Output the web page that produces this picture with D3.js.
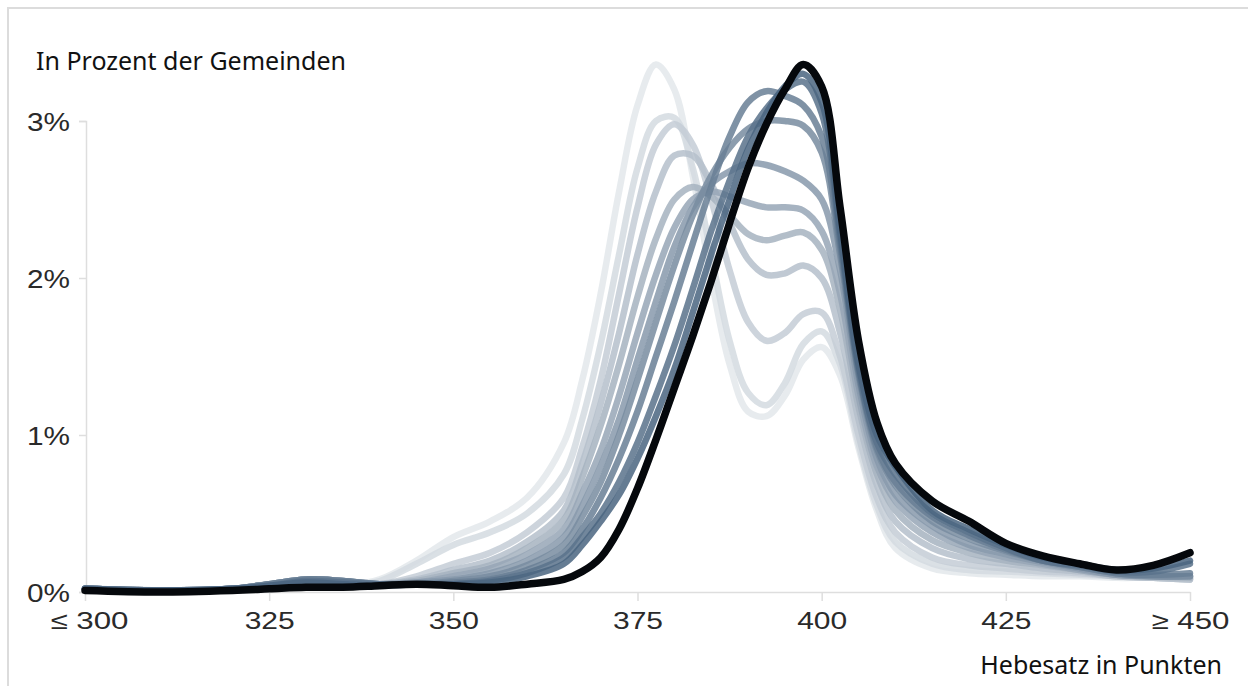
<!DOCTYPE html>
<html><head><meta charset="utf-8">
<script src="https://cdn.jsdelivr.net/npm/d3@7"></script>
<style>body{margin:0;background:#fff}svg{display:block}</style>
</head><body>
<svg id="c" width="1248" height="686"></svg>
<script>
// x grid (Hebesatz in Punkten)
const xs = [300,310,320,325,330,335,340,345,350,355,360,365,367.5,370,372.5,375,377.5,380,382.5,385,387.5,390,392.5,395,397.5,400,402.5,405,407.5,410,415,420,425,430,435,440,445,450];
// density in percent, lightest (earliest) to black (latest)
const s0  = [0.02,0.01,0.01,0.02,0.03,0.04,0.08,0.2,0.35,0.45,0.6,0.95,1.35,1.9,2.55,3.1,3.36,3.2,2.65,2.0,1.45,1.15,1.12,1.25,1.48,1.56,1.38,0.92,0.52,0.28,0.15,0.12,0.11,0.1,0.1,0.09,0.09,0.08];
const s1  = [0.02,0.01,0.01,0.02,0.03,0.04,0.07,0.18,0.3,0.38,0.5,0.75,1.1,1.58,2.15,2.7,3.0,3.02,2.7,2.15,1.6,1.27,1.19,1.33,1.58,1.66,1.45,0.95,0.55,0.32,0.18,0.14,0.13,0.12,0.11,0.1,0.09,0.08];
const s2  = [0.02,0.01,0.01,0.03,0.04,0.04,0.05,0.1,0.18,0.25,0.38,0.6,0.92,1.35,1.9,2.45,2.85,2.98,2.85,2.5,2.05,1.72,1.6,1.65,1.77,1.78,1.5,1.0,0.6,0.38,0.22,0.17,0.15,0.13,0.12,0.1,0.09,0.08];
const s3  = [0.02,0.01,0.02,0.04,0.06,0.05,0.05,0.08,0.14,0.2,0.32,0.52,0.82,1.2,1.65,2.15,2.55,2.78,2.78,2.6,2.35,2.12,2.02,2.03,2.08,2.0,1.65,1.1,0.68,0.45,0.28,0.21,0.18,0.15,0.13,0.1,0.09,0.08];
const s4  = [0.02,0.01,0.02,0.05,0.07,0.06,0.05,0.07,0.12,0.17,0.28,0.46,0.73,1.06,1.45,1.88,2.25,2.5,2.58,2.52,2.4,2.28,2.24,2.27,2.29,2.18,1.8,1.18,0.75,0.52,0.33,0.25,0.2,0.17,0.14,0.11,0.1,0.09];
const s5  = [0.02,0.01,0.02,0.05,0.08,0.07,0.05,0.06,0.1,0.15,0.24,0.4,0.63,0.9,1.25,1.65,2.02,2.32,2.5,2.55,2.52,2.48,2.45,2.45,2.43,2.3,1.9,1.25,0.8,0.58,0.38,0.28,0.22,0.18,0.14,0.11,0.1,0.1];
const s6  = [0.02,0.01,0.02,0.05,0.08,0.07,0.05,0.06,0.08,0.12,0.2,0.35,0.55,0.8,1.1,1.48,1.85,2.2,2.45,2.6,2.68,2.73,2.72,2.68,2.62,2.5,2.05,1.32,0.85,0.62,0.42,0.3,0.24,0.19,0.15,0.11,0.1,0.1];
const s7  = [0.02,0.01,0.02,0.05,0.08,0.07,0.05,0.05,0.07,0.1,0.17,0.3,0.48,0.7,1.0,1.35,1.72,2.08,2.4,2.65,2.83,2.95,3.0,3.0,2.97,2.8,2.15,1.38,0.9,0.68,0.45,0.34,0.26,0.2,0.16,0.12,0.1,0.1];
const s8  = [0.02,0.01,0.02,0.05,0.08,0.07,0.05,0.05,0.06,0.08,0.14,0.25,0.4,0.6,0.85,1.15,1.5,1.85,2.22,2.58,2.9,3.12,3.19,3.16,3.1,2.9,2.2,1.4,0.92,0.7,0.48,0.36,0.27,0.2,0.16,0.12,0.11,0.12];
const s9  = [0.02,0.01,0.02,0.04,0.07,0.06,0.05,0.05,0.05,0.07,0.12,0.22,0.35,0.5,0.7,0.95,1.25,1.57,1.93,2.3,2.62,2.9,3.08,3.2,3.25,3.05,2.25,1.42,0.95,0.75,0.5,0.38,0.28,0.2,0.17,0.13,0.13,0.18];
const s10 = [0.02,0.01,0.02,0.04,0.06,0.05,0.04,0.05,0.05,0.06,0.1,0.18,0.3,0.45,0.62,0.85,1.12,1.42,1.78,2.15,2.5,2.82,3.05,3.22,3.3,3.12,2.3,1.45,1.0,0.8,0.52,0.4,0.3,0.22,0.18,0.14,0.15,0.2];
const s11 = [0.01,0.0,0.01,0.02,0.03,0.03,0.04,0.05,0.04,0.03,0.05,0.08,0.13,0.22,0.4,0.66,0.97,1.3,1.63,1.98,2.35,2.7,2.98,3.2,3.36,3.22,2.45,1.6,1.08,0.82,0.58,0.45,0.31,0.23,0.18,0.14,0.17,0.25];
const series = [s0,s1,s2,s3,s4,s5,s6,s7,s8,s9,s10,s11];

const xTicks = [300,325,350,375,400,425,450];
const xTickLabels = ["≤ 300","325","350","375","400","425","≥ 450"];
const yTicks = [0,1,2,3];
const yTickLabels = ["0%","1%","2%","3%"];

const svg = d3.select("#c");
// outer frame
svg.append("rect").attr("x",8).attr("y",8).attr("width",1300).attr("height",700)
  .attr("fill","none").attr("stroke","#dcdcdc").attr("stroke-width",2);

const x = d3.scaleLinear().domain([300,450]).range([85,1190]);
const y = d3.scaleLinear().domain([0,3]).range([592,121]);

const tickFont = "Liberation Sans, Arial, sans-serif";
// y axis
const yAx = svg.append("g").attr("transform","translate(86,0)")
  .call(d3.axisLeft(y).tickValues(yTicks).tickFormat((d,i)=>yTickLabels[i]).tickSize(7).tickPadding(9));
yAx.select(".domain").attr("stroke","#dedede").attr("stroke-width",1.5);
yAx.selectAll(".tick line").attr("stroke","#dedede").attr("stroke-width",1.5);
yAx.selectAll(".tick text").attr("font-family",tickFont).attr("font-size",25).attr("fill","#2a2a2a")
  .attr("dy","0.36em").attr("textLength",43).attr("lengthAdjust","spacingAndGlyphs");

// x axis
const xAx = svg.append("g").attr("transform","translate(0,592)")
  .call(d3.axisBottom(x).tickValues(xTicks).tickFormat((d,i)=>xTickLabels[i]).tickSize(9).tickSizeOuter(0).tickPadding(11));
xAx.select(".domain").attr("stroke","#dedede").attr("stroke-width",1.5);
xAx.selectAll(".tick line").attr("stroke","#dedede").attr("stroke-width",1.5);
xAx.selectAll(".tick text").attr("font-family",tickFont).attr("font-size",24).attr("fill","#2a2a2a")
  .attr("textLength",(d,i)=> (i===0||i===xTicks.length-1) ? 78 : 50).attr("lengthAdjust","spacingAndGlyphs")
  .attr("x",(d,i)=> i===0 ? 4 : 0);

// lines
const col = d3.interpolateRgb("#e3e7eb","#4a6580");
const line = d3.line().x((d,i)=>x(xs[i])).y(d=>y(d)).curve(d3.curveCatmullRom.alpha(0.5));
series.forEach((s,k)=>{
  const last = k===series.length-1;
  svg.append("path").datum(s).attr("d",line)
    .attr("fill","none")
    .attr("stroke", last ? "#05080c" : col(k/(series.length-2)))
    .attr("stroke-opacity", last ? 1 : 0.85)
    .attr("stroke-width", last ? 7.5 : 6.5)
    .attr("stroke-linecap","round").attr("stroke-linejoin","round");
});

// axis titles
svg.append("text").attr("x",36).attr("y",70).text("In Prozent der Gemeinden")
  .attr("font-family","Noto Sans, Open Sans, sans-serif").attr("font-size",25).attr("fill","#111");
svg.append("text").attr("x",1222).attr("y",674).attr("text-anchor","end").text("Hebesatz in Punkten")
  .attr("font-family","Noto Sans, Open Sans, sans-serif").attr("font-size",25).attr("fill","#111");
</script>
</body></html>
